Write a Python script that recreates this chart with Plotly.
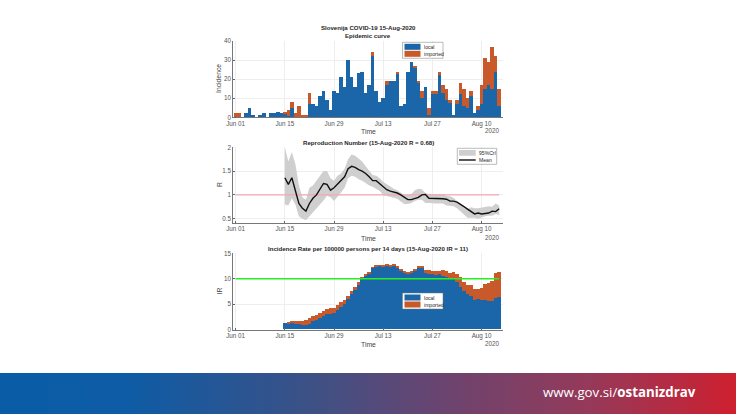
#########################
###     LIBRARIES     ###
#########################

import pandas as pd
import plotly.graph_objects as go


#########################
###       DATA        ###
#########################

# Daily incidence, Jun 01 to Aug 15
days = pd.date_range("2020-06-01", "2020-08-15").strftime("%Y-%m-%d").tolist()
local = [0, 0, 0, 2, 5, 1, 0, 1, 2, 0, 2, 2, 3, 2, 2, 0.5, 5, 0, 0, 0, 0, 7, 7, 6, 11, 14, 9, 4,
         14, 13, 21, 16, 30, 21, 16, 23, 24, 13, 17, 32, 14, 8, 10, 17, 19, 19, 23, 6, 7, 24, 29,
         26, 18, 10, 16, 1, 12, 12, 22, 13, 9, 8, 1, 7, 12, 6, 5, 11, 2, 4, 7, 15, 17, 15, 24, 6]
imported = [2, 2, 0, 0, 0, 0, 0, 0, 0, 0, 0, 0, 0, 0, 1, 3.5, 3, 2, 6, 1, 1, 6, 0, 0, 0, 0, 0, 0,
            0, 0, 0, 0, 0, 0, 0, 0, 0, 0, 0, 2, 0, 0, 0, 2, 0, 0, 1, 0, 0, 0, 0,
            1, 1, 4, 0, 4, 2, 2, 2, 4, 6, 1, 0, 2, 6, 9, 5, 3, 0, 2, 10, 16, 12, 22, 8, 9]

# Reproduction number, Jun 15 to Aug 15
r_days = days[14:]
r_mean = [1.36, 1.22, 1.36, 1.1, 0.82, 0.72, 0.66, 0.82, 0.93, 1.0, 1.12, 1.24, 1.22, 1.1,
          1.15, 1.22, 1.3, 1.38, 1.55, 1.6, 1.58, 1.53, 1.5, 1.45, 1.38, 1.3, 1.3, 1.24, 1.17,
          1.11, 1.08, 1.06, 1.04, 1.0, 0.95, 0.9, 0.9, 0.92, 0.95, 1.0, 1.01, 0.93, 0.93,
          0.92, 0.92, 0.92, 0.91, 0.87, 0.87, 0.85, 0.8, 0.75, 0.7, 0.65, 0.6, 0.62, 0.6, 0.61,
          0.62, 0.66, 0.65, 0.71, 0.68]
r_upper = [2.0, 1.7, 1.9, 1.65, 1.2, 0.95, 0.9, 1.15, 1.2, 1.3, 1.4, 1.5, 1.5, 1.35,
           1.3, 1.4, 1.45, 1.55, 1.75, 1.85, 1.82, 1.75, 1.7, 1.6, 1.5, 1.42, 1.4, 1.35, 1.27,
           1.22, 1.17, 1.13, 1.1, 1.05, 1.0, 1.0, 1.02, 1.1, 1.13, 1.12, 1.04, 1.02,
           1.02, 1.02, 1.03, 1.02, 0.98, 0.97, 0.94, 0.88, 0.8, 0.72, 0.7, 0.74, 0.72, 0.72,
           0.73, 0.75, 0.76, 0.75, 0.82, 0.78]
r_lower = [0.8, 0.78, 0.93, 0.8, 0.55, 0.5, 0.47, 0.55, 0.62, 0.72, 0.78, 0.88, 0.98, 0.95,
           0.87, 0.95, 1.05, 1.15, 1.35, 1.4, 1.38, 1.33, 1.3, 1.25, 1.2, 1.17, 1.13, 1.08, 1.0,
           0.98, 0.96, 0.95, 0.92, 0.86, 0.81, 0.81, 0.83, 0.87, 0.9, 0.9, 0.83, 0.83,
           0.82, 0.82, 0.82, 0.82, 0.78, 0.77, 0.76, 0.72, 0.65, 0.58, 0.52, 0.52, 0.52, 0.5,
           0.53, 0.55, 0.56, 0.56, 0.6, 0.58]

# Incidence rate per 100000 persons per 14 days, Jun 15 to Aug 15
ir_local = [1.2, 1.2, 1.2, 1.1, 1.0, 0.9, 0.9, 1.0, 1.6, 1.8, 2.2, 2.7, 3.0, 3.0,
            3.3, 3.8, 4.4, 4.9, 5.9, 7.0, 7.8, 8.8, 9.8, 10.5, 11.0, 12.1, 12.4, 12.5, 12.3,
            12.5, 12.4, 12.6, 12.2, 11.5, 11.2, 11.0, 11.1, 11.5, 12.1, 12.2, 11.0, 10.9,
            10.8, 10.7, 10.8, 10.5, 10.3, 10.1, 10.0, 9.4, 8.4, 7.6, 6.9, 6.5, 5.8, 5.9,
            5.8, 5.8, 5.6, 5.6, 6.2, 6.3]
ir_total = [1.2, 1.4, 1.7, 1.7, 1.7, 1.7, 1.8, 2.2, 2.6, 2.8, 3.2, 3.7, 4.1, 4.2,
            4.3, 4.8, 5.3, 5.7, 6.6, 7.6, 8.3, 9.3, 10.2, 10.8, 11.2, 12.2, 12.5, 12.6, 12.5,
            12.7, 12.6, 12.8, 12.5, 11.8, 11.4, 11.2, 11.3, 11.7, 12.3, 12.4, 11.6, 11.6,
            11.4, 11.5, 11.4, 11.6, 11.5, 11.0, 11.2, 10.9, 10.2, 9.3, 8.8, 8.8, 8.0, 7.9,
            8.1, 9.0, 9.2, 9.5, 11.0, 11.3]
ir_imported = [round(t - l, 1) for t, l in zip(ir_total, ir_local)]

tick_days = ["2020-06-01", "2020-06-15", "2020-06-29", "2020-07-13", "2020-07-27", "2020-08-10"]
tick_labels = ["Jun 01", "Jun 15", "Jun 29", "Jul 13", "Jul 27", "Aug 10"]

blue = "#1a66a8"
orange = "#c8592a"
font_name = "Liberation Sans"
W, H = 736, 414

# Banner colours from left to right (x in pixels, r, g, b)
banner_stops = [(0, 10, 92, 168), (130, 15, 92, 165), (300, 58, 82, 136), (440, 106, 69, 112),
                (590, 150, 58, 90), (736, 207, 32, 48)]


#########################
###     FUNCTIONS     ###
#########################

def px(x):
    return x / W


def py(y):
    return 1 - y / H


def label(text, x, y, size = 6.1, color = "#262626", anchor = "center", angle = 0):
    fig.add_annotation(text = text, x = px(x), y = py(y), xref = "paper", yref = "paper", showarrow = False,
                       xanchor = anchor, yanchor = "middle", textangle = angle,
                       font = dict(size = size, color = color, family = font_name))


def box(x0, y0, x1, y1, fill, line = None):
    fig.add_shape(type = "rect", xref = "paper", yref = "paper", x0 = px(x0), x1 = px(x1), y0 = py(y0), y1 = py(y1),
                  fillcolor = fill, line = dict(color = line or fill, width = 0.5 if line else 0), layer = "above")


def bar_legend(x, y):
    box(x, y, x + 40.5, y + 16, "white", "#777777")
    box(x + 2, y + 1.5, x + 18, y + 7.5, blue)
    box(x + 2, y + 8.5, x + 18, y + 14.5, orange)
    label("local", x + 19, y + 4.5, 5.1, anchor = "left")
    label("imported", x + 19, y + 11.5, 5.1, anchor = "left")


def banner_colour(x):
    for a, b in zip(banner_stops, banner_stops[1:]):
        if x <= b[0]:
            t = (x - a[0]) / (b[0] - a[0])
            return "rgb(%d,%d,%d)" % tuple(a[i] + t * (b[i] - a[i]) for i in (1, 2, 3))
    return "rgb(%d,%d,%d)" % banner_stops[-1][1:]


#########################
###       PLOT        ###
#########################

fig = go.Figure()

# Epidemic curve
fig.add_trace(go.Bar(x = days, y = local, marker = dict(color = blue, line_width = 0), xaxis = "x", yaxis = "y"))
fig.add_trace(go.Bar(x = days, y = imported, marker = dict(color = orange, line_width = 0), xaxis = "x", yaxis = "y"))

# Reproduction number
fig.add_trace(go.Scatter(x = r_days, y = r_upper, mode = "lines", line = dict(width = 0, color = "#cfcfcf"),
                         xaxis = "x2", yaxis = "y2"))
fig.add_trace(go.Scatter(x = r_days, y = r_lower, mode = "lines", line = dict(width = 0, color = "#cfcfcf"),
                         fill = "tonexty", fillcolor = "#cfcfcf", xaxis = "x2", yaxis = "y2"))
fig.add_trace(go.Scatter(x = [days[0], days[-1]], y = [1, 1], mode = "lines", line = dict(color = "#f2a9ae", width = 1.4),
                         xaxis = "x2", yaxis = "y2"))
fig.add_trace(go.Scatter(x = r_days, y = r_mean, mode = "lines", line = dict(color = "#111111", width = 1.4),
                         xaxis = "x2", yaxis = "y2"))

# Incidence rate
fig.add_trace(go.Bar(x = r_days, y = ir_local, marker = dict(color = blue, line_width = 0), xaxis = "x3", yaxis = "y3"))
fig.add_trace(go.Bar(x = r_days, y = ir_imported, marker = dict(color = orange, line_width = 0), xaxis = "x3", yaxis = "y3"))
fig.add_trace(go.Scatter(x = [days[0], days[-1]], y = [10, 10], mode = "lines", line = dict(color = "#25ee25", width = 1.5),
                         xaxis = "x3", yaxis = "y3"))

x_style = dict(range = ["2020-05-31 06:00", "2020-08-16 02:00"], tickvals = tick_days, ticktext = tick_labels,
               domain = [px(233), px(503)], showgrid = True, gridcolor = "#eeeeee", gridwidth = 0.6, ticks = "inside",
               ticklen = 2, tickwidth = 0.5, tickcolor = "#666666", showline = True, linecolor = "#777777", linewidth = 0.6,
               tickfont = dict(size = 6.3, color = "#555555"), zeroline = False)
y_style = dict(showgrid = True, gridcolor = "#eeeeee", gridwidth = 0.6, ticks = "inside", ticklen = 2, tickwidth = 0.5,
               tickcolor = "#666666", showline = True, linecolor = "#777777", linewidth = 0.6, zeroline = False,
               tickfont = dict(size = 6.3, color = "#555555"))

fig.update_layout(
    width = W,
    height = H,
    margin = dict(l = 0, r = 0, t = 0, b = 0, autoexpand = False),
    paper_bgcolor = "white",
    plot_bgcolor = "white",
    showlegend = False,
    barmode = "stack",
    bargap = 0,
    font = dict(family = font_name),
    xaxis = dict(anchor = "y", **x_style),
    xaxis2 = dict(anchor = "y2", **x_style),
    xaxis3 = dict(anchor = "y3", **x_style),
    yaxis = dict(domain = [py(117.3), py(41)], range = [0, 40], tickvals = [0, 10, 20, 30, 40], **y_style),
    yaxis2 = dict(domain = [py(223), py(147.3)], range = [0.41, 2], tickvals = [0.5, 1, 1.5, 2],
                  ticktext = ["0.5", "1", "1.5", "2"], **y_style),
    yaxis3 = dict(domain = [py(329.7), py(253.3)], range = [0, 15], tickvals = [0, 5, 10, 15], **y_style),
)

# Titles, axis names
label("<b>Slovenija COVID-19 15-Aug-2020</b>", 368, 28)
label("<b>Epidemic curve</b>", 368, 36)
label("<b>Reproduction Number (15-Aug-2020 R = 0.68)</b>", 368, 142)
label("<b>Incidence Rate per 100000 persons per 14 days (15-Aug-2020 IR = 11)</b>", 368, 248.3)
for y_time, y_year in [(131, 130), (238, 237), (344, 343)]:
    label("Time", 368, y_time, 6.8, "#444444")
    label("2020", 502, y_year, 6.3, "#555555", "right")

label("Incidence", 219, 79, 6.8, "#444444", angle = -90)
label("R", 219, 185, 6.8, "#444444", angle = -90)
label("IR", 219, 291.5, 6.8, "#444444", angle = -90)

# Legends
bar_legend(402.5, 42.3)
bar_legend(402.5, 293)
box(457.3, 148.3, 496.7, 164.3, "white", "#777777")
box(459, 150, 475.7, 155.7, "#cfcfcf")
fig.add_shape(type = "line", xref = "paper", yref = "paper", x0 = px(459), x1 = px(475.7), y0 = py(160), y1 = py(160),
              line = dict(color = "#111111", width = 1.4), layer = "above")
label("95%CrI", 477, 152.8, 5.1, anchor = "left")
label("Mean", 477, 160, 5.1, anchor = "left")

# Banner along the bottom
for x in range(0, W, 8):
    box(x, 373, x + 8.5, 414, banner_colour(x + 4))
fig.add_annotation(text = "www.gov.si/<b>ostanizdrav</b>", x = px(698), y = py(392), xref = "paper", yref = "paper",
                   showarrow = False, xanchor = "right", yanchor = "middle",
                   font = dict(size = 13.3, color = "white", family = "Open Sans"))

# Page margin off, so the figure sits flush in the window
fig.write_html("out.html", post_script = "document.body.style.margin = '0';", config = dict(displayModeBar = False))
